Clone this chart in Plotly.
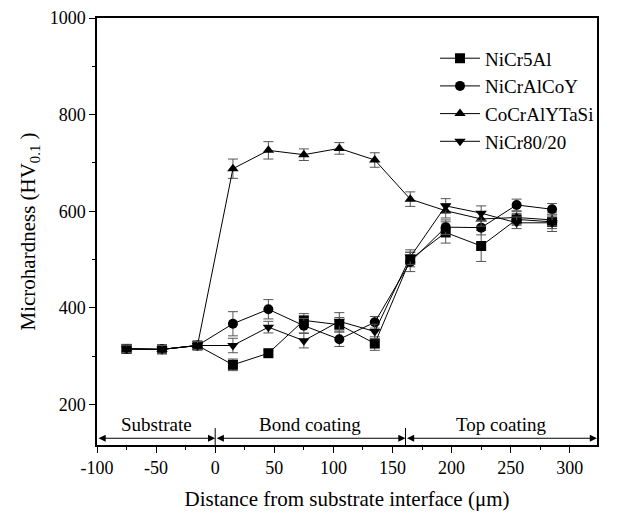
import plotly.graph_objects as go

distance = [-75, -45, -15, 15, 45, 75, 105, 135, 165, 195, 225, 255, 285]

nicr5al = [315, 314, 322, 282, 306, 374, 365, 326, 500, 556, 528, 583, 578]
nicr5al_err = [8, 8, 8, 12, 6, 14, 15, 14, 15, 22, 32, 12, 20]

nicralcoy = [315, 314, 322, 367, 397, 363, 335, 370, 495, 567, 566, 613, 604]
nicralcoy_err = [8, 8, 8, 25, 20, 15, 15, 12, 20, 15, 15, 12, 12]

cocralytasi = [315, 314, 322, 688, 726, 717, 730, 706, 625, 601, 584, 587, 582]
cocralytasi_err = [8, 8, 8, 20, 18, 12, 12, 15, 15, 15, 15, 12, 12]

nicr8020 = [315, 314, 322, 322, 360, 332, 372, 351, 505, 611, 596, 576, 576]
nicr8020_err = [8, 8, 8, 15, 12, 15, 18, 15, 15, 15, 15, 12, 12]

x_tickvals = [-100, -50, 0, 50, 100, 150, 200, 250, 300]
x_ticktext = ["-100", "-50", "0", "50", "100", "150", "200", "250", "300"]
y_tickvals = [200, 400, 600, 800, 1000]
y_ticktext = ["200", "400", "600", "800", "1000"]

series = [
    ("NiCr5Al", nicr5al, nicr5al_err, "square"),
    ("NiCrAlCoY", nicralcoy, nicralcoy_err, "circle"),
    ("CoCrAlYTaSi", cocralytasi, cocralytasi_err, "triangle-up"),
    ("NiCr80/20", nicr8020, nicr8020_err, "triangle-down"),
]

regions = ["Substrate", "Bond coating", "Top coating"]
region_bounds = [-100, 0, 161, 323]

FONT = "Liberation Serif"

fig = go.Figure()
for name, vals, errs, sym in series:
    fig.add_trace(go.Scatter(
        x=distance, y=vals, name=name, mode="lines+markers",
        line=dict(color="black", width=1),
        marker=dict(symbol=sym, size=10, color="black"),
        error_y=dict(type="data", array=errs, visible=True,
                     color="#555555", thickness=1, width=5),
    ))

y_arrow = 130
for i, label in enumerate(regions):
    x0, x1 = region_bounds[i], region_bounds[i + 1]
    fig.add_annotation(x=x1, y=y_arrow, ax=x0, ay=y_arrow,
                       xref="x", yref="y", axref="x", ayref="y",
                       text="", showarrow=True, arrowhead=2, startarrowhead=2,
                       arrowside="end+start", arrowsize=1.2, arrowwidth=1.2,
                       arrowcolor="black", standoff=0, startstandoff=0)
    fig.add_annotation(x=(x0 + x1) / 2, y=y_arrow, yshift=14, xref="x", yref="y",
                       text=label, showarrow=False,
                       font=dict(family=FONT, size=19, color="black"))

for xb in region_bounds[1:3]:
    fig.add_shape(type="line", x0=xb, x1=xb, y0=116, y1=151,
                  xref="x", yref="y", line=dict(color="black", width=1))

# page body has an 8px default margin, so the figure sits at (8, 8)
fig.update_layout(
    width=641, height=517,
    margin=dict(l=89, r=52, t=10, b=80, autoexpand=False),
    paper_bgcolor="white", plot_bgcolor="white",
    font=dict(family=FONT, size=18, color="black"),
    showlegend=True,
    legend=dict(x=0.676, y=0.95, xanchor="left", yanchor="top",
                bgcolor="rgba(0,0,0,0)", font=dict(family=FONT, size=19),
                tracegroupgap=0, itemwidth=40),
)
fig.update_xaxes(
    range=[-100, 323], tickvals=x_tickvals, ticktext=x_ticktext,
    ticks="outside", ticklen=6, tickwidth=1.2, tickcolor="black",
    minor=dict(dtick=25, tick0=-100, ticks="outside", ticklen=3, tickcolor="black"),
    showline=True, linecolor="black", linewidth=1.5, mirror=True,
    showgrid=False, zeroline=False, automargin=False,
    ticklabeloverflow="allow",
    title=dict(text="Distance from substrate interface (μm)",
               font=dict(family=FONT, size=21), standoff=14),
    tickfont=dict(family=FONT, size=18),
)
fig.update_yaxes(
    range=[116, 1000], tickvals=y_tickvals, ticktext=y_ticktext,
    ticks="outside", ticklen=6, tickwidth=1.2, tickcolor="black",
    minor=dict(tick0=100, dtick=100, ticks="outside", ticklen=3, tickcolor="black"),
    showline=True, linecolor="black", linewidth=1.5, mirror=True,
    showgrid=False, zeroline=False, automargin=False,
    ticklabeloverflow="allow",
    title=dict(text="Microhardness (HV<sub>0.1</sub> )",
               font=dict(family=FONT, size=21), standoff=8),
    tickfont=dict(family=FONT, size=18),
)

fig.write_html("out.html")
